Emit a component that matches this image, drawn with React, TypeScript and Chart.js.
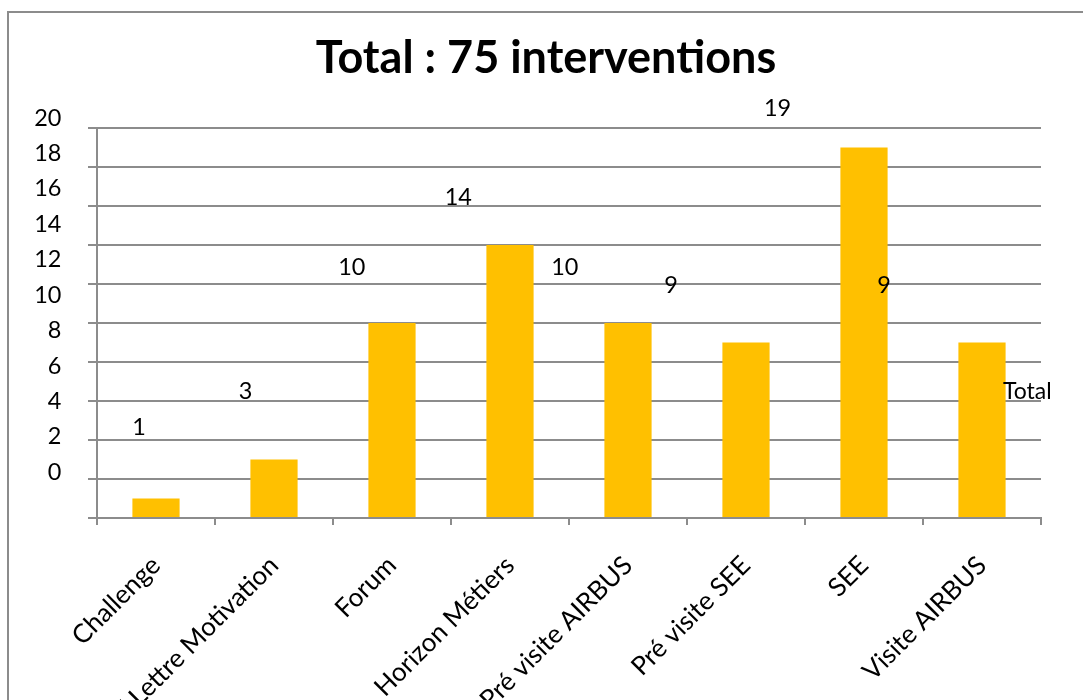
import React, { useEffect, useRef } from 'react';
import { Chart, registerables } from 'chart.js';

Chart.register(...registerables);

const categories = [
  'Challenge',
  'CV / Lettre Motivation',
  'Forum',
  'Horizon Métiers',
  'Pré visite AIRBUS',
  'Pré visite SEE',
  'SEE',
  'Visite AIRBUS',
];
const values = [1, 3, 10, 14, 10, 9, 19, 9];
const yTickValues = [0, 2, 4, 6, 8, 10, 12, 14, 16, 18, 20];
const seriesLabel = 'Total';
const titleText = 'Total : 75 interventions';

const FONT = 'Lato, "Open Sans", sans-serif';
const GRID = '#8c8c8c';
const BAR = '#FFC000';

// The reference's text layer (tick values, data labels) is rendered at a
// slightly smaller scale than the plot graphics; reproduce that here.
const TEXT_SCALE_X = 0.902;
const TEXT_SCALE_Y = 0.908;
const TEXT_SHIFT_X = -2.6;
const TEXT_SHIFT_Y = 0.6;

const textLayer = {
  id: 'textLayer',
  afterDatasetsDraw(chart: any) {
    const { ctx, chartArea } = chart;
    const yScale = chart.scales.y;
    ctx.save();
    ctx.translate(TEXT_SHIFT_X, TEXT_SHIFT_Y);
    ctx.scale(TEXT_SCALE_X, TEXT_SCALE_Y);
    ctx.fillStyle = '#000';
    ctx.font = `26px ${FONT}`;
    ctx.textAlign = 'right';
    ctx.textBaseline = 'middle';
    yTickValues.forEach((v) => {
      ctx.fillText(String(v), chartArea.left - 27, yScale.getPixelForValue(v));
    });
    ctx.textAlign = 'center';
    const meta = chart.getDatasetMeta(0);
    meta.data.forEach((bar: any, i: number) => {
      ctx.fillText(String(chart.data.datasets[0].data[i]), bar.x, bar.y - 30);
    });
    ctx.restore();

    // legend entry (no key), drawn at the right side of the plot
    ctx.save();
    ctx.fillStyle = '#000';
    ctx.font = `23px ${FONT}`;
    ctx.textAlign = 'left';
    ctx.textBaseline = 'middle';
    ctx.fillText(
      chart.data.datasets[0].label,
      chartArea.right - 38,
      (chartArea.top + chartArea.bottom) / 2 + 69
    );
    ctx.restore();
  },
};

function BarChart() {
  const ref = useRef<HTMLCanvasElement | null>(null);
  useEffect(() => {
    if (!ref.current) return;
    const chart = new Chart(ref.current, {
      type: 'bar',
      data: {
        labels: categories,
        datasets: [
          {
            label: seriesLabel,
            data: values,
            backgroundColor: BAR,
            borderWidth: 0,
            barPercentage: 0.4,
            categoryPercentage: 1,
          },
        ],
      },
      options: {
        responsive: false,
        animation: false,
        devicePixelRatio: 1,
        layout: { padding: { left: 21, right: 21, top: 0, bottom: 0 } },
        plugins: {
          legend: { display: false },
          tooltip: { enabled: false },
          title: {
            display: true,
            text: titleText,
            color: '#000',
            font: { family: FONT, size: 45, weight: 'bold', lineHeight: 1.2 },
            padding: { top: 18, bottom: 43 },
          },
        },
        scales: {
          x: {
            type: 'category',
            offset: true,
            grid: {
              display: true,
              drawOnChartArea: false,
              drawTicks: true,
              offset: true,
              tickLength: 7,
              color: GRID,
              lineWidth: 2,
            },
            border: { display: true, color: GRID, width: 2 },
            ticks: {
              autoSkip: false,
              maxRotation: 45,
              minRotation: 45,
              color: '#000',
              padding: 25,
              font: { family: FONT, size: 26 },
            },
            afterFit: (scale: any) => {
              scale.height = 182;
            },
          },
          y: {
            type: 'linear',
            min: 0,
            max: 20,
            ticks: { display: false, stepSize: 2 },
            grid: {
              display: true,
              drawTicks: true,
              tickLength: 9,
              color: GRID,
              lineWidth: 2,
            },
            border: { display: true, color: GRID, width: 2 },
            afterFit: (scale: any) => {
              scale.width = 67;
            },
          },
          yRight: {
            type: 'linear',
            position: 'right',
            display: true,
            min: 0,
            max: 20,
            grid: { display: false, drawTicks: false },
            border: { display: false },
            ticks: { display: false },
            afterFit: (scale: any) => {
              scale.width = 21;
            },
          },
        },
      },
      plugins: [textLayer],
    });
    return () => chart.destroy();
  }, []);
  return <canvas ref={ref} width={1074} height={687} style={{ display: 'block' }} />;
}

export default function App() {
  return (
    <div
      style={{
        position: 'absolute',
        left: 7,
        top: 11,
        width: 1076,
        height: 689,
        borderLeft: '2px solid #8c8c8c',
        borderTop: '2px solid #8c8c8c',
        boxSizing: 'border-box',
        overflow: 'hidden',
        background: '#fff',
      }}
    >
      <BarChart />
    </div>
  );
}
